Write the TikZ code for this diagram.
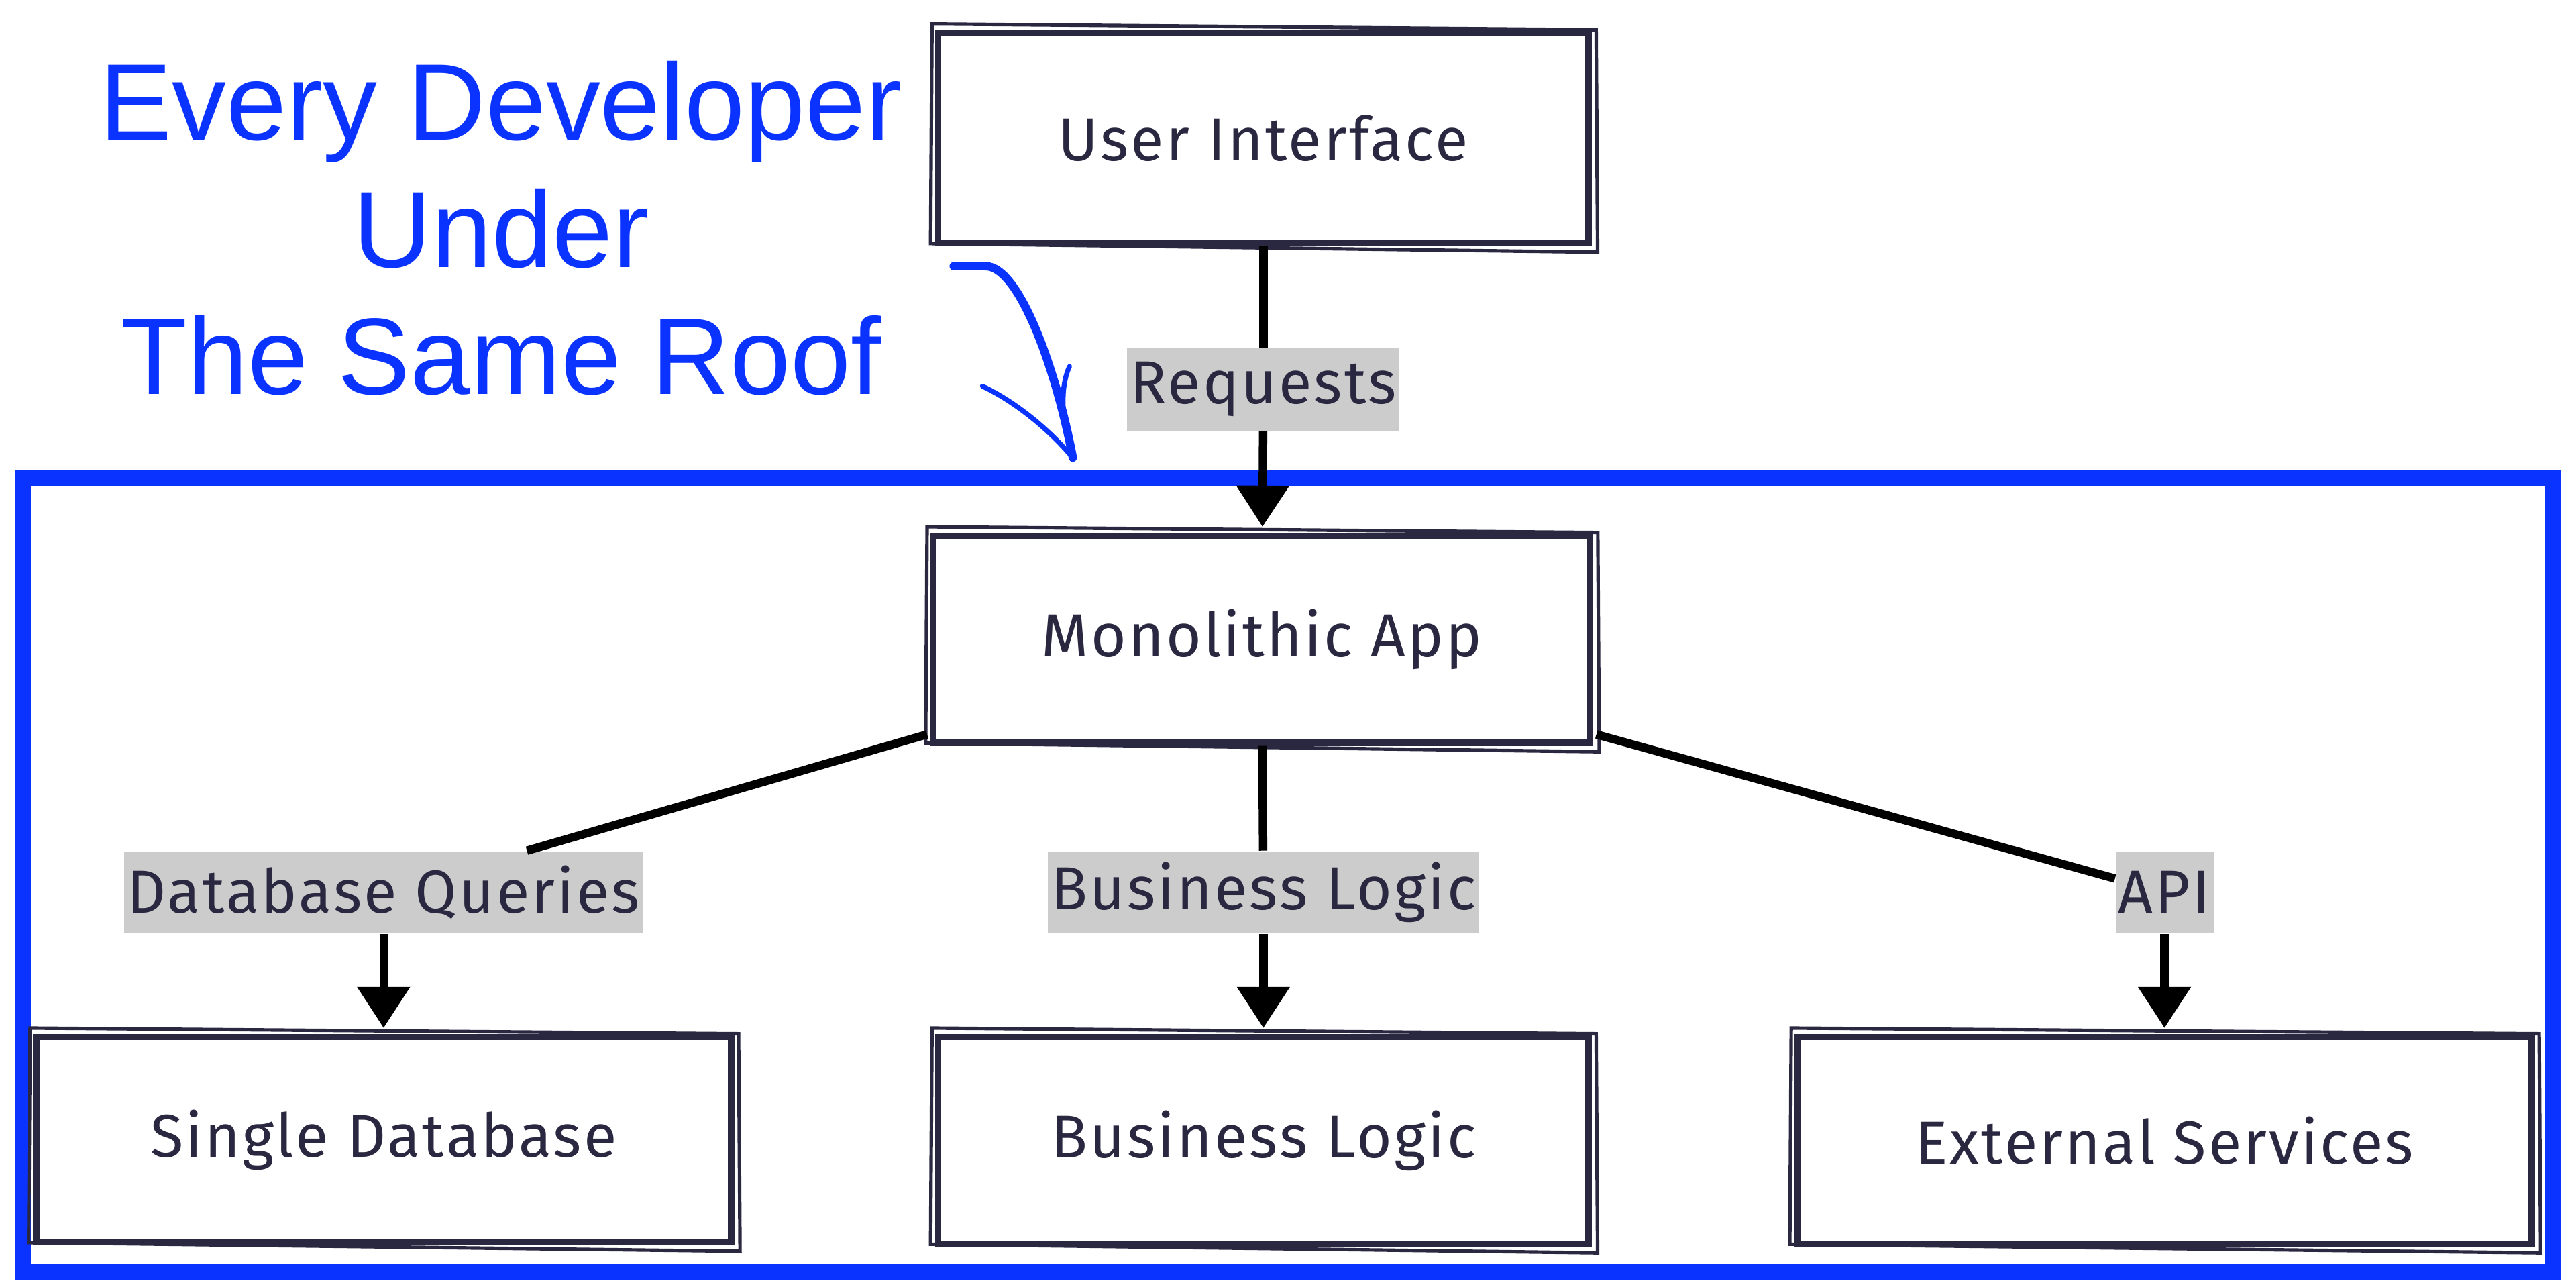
\documentclass[tikz,border=0pt]{standalone}
\usepackage{fontspec}
\setmainfont{Fira Sans}
\newfontfamily\boxfont[LetterSpace=3.5]{Fira Sans}
\newfontfamily\titlefont{Liberation Sans}
\usetikzlibrary{arrows.meta}
\definecolor{ink}{HTML}{2A2740}
\definecolor{roof}{HTML}{0A33FF}
\definecolor{tagfill}{HTML}{CCCCCC}
\tikzset{
  box/.style={draw=ink, line width=2.2pt, minimum height=2.52cm, text=ink,
    font=\boxfont\fontsize{21}{24}\selectfont},
  tag/.style={fill=tagfill, text=ink, minimum height=1cm, inner xsep=1pt,
    font=\boxfont\fontsize{21}{24}\selectfont},
  link/.style={line width=2.9pt},
  flow/.style={link, -{Triangle[length=0.5cm, width=0.62cm]}, shorten >=2pt},
}
\begin{document}
\begin{tikzpicture}
    \useasboundingbox (0,0) rectangle (31.36,15.66);
    % the roof
    \draw [roof, line width=5.3pt] (0.28,0.18) rectangle (31.08,9.84);
    \node [roof, align=center, font=\titlefont\fontsize{37.6}{44}\selectfont] (title) at (6.1,12.88) {Every Developer\\Under\\The Same Roof};
    \draw [roof, line width=2.9pt, line cap=round] (11.61,12.42) -- (12.0,12.42) .. controls (12.4,12.42) and (12.85,11.2) .. (13.06,10.09);
    \draw [roof, line width=1.7pt, line cap=round] (11.96,10.96) .. controls (12.4,10.75) and (12.8,10.4) .. (13.06,10.09);
    \draw [roof, line width=1.7pt, line cap=round] (13.02,11.2) .. controls (12.9,10.95) and (12.92,10.5) .. (13.06,10.09);
    % boxes
    \node [box, minimum width=7.92cm, minimum height=2.56cm] (ui) at (15.38,13.98) {User Interface};
    \node [box, minimum width=8.0cm] (mono) at (15.36,7.88) {Monolithic App};
    \node [box, minimum width=8.46cm, minimum height=2.5cm] (db) at (4.67,1.79) {Single Database};
    \node [box, minimum width=7.92cm] (bl) at (15.38,1.78) {Business Logic};
    \node [box, minimum width=8.94cm] (ext) at (26.35,1.78) {External Services};
    \foreach \b in {ui,mono,db,bl,ext}
        \draw [ink, line width=1.2pt] ([shift={(-1pt,2pt)}]\b.north west) -- ([shift={(1.5pt,0pt)}]\b.north east) -- ([shift={(2pt,-2pt)}]\b.south east) -- ([shift={(-1.5pt,1pt)}]\b.south west) -- cycle;
    % labels
    \node [tag] (req) at (15.38,10.92) {Requests};
    \node [tag] (dbq) at (4.67,4.8) {Database Queries};
    \node [tag] (blq) at (15.38,4.8) {Business Logic};
    \node [tag] (api) at (26.35,4.8) {API};
    % connectors
    \draw [link] (ui) -- (req);
    \draw [flow] (req) -- (mono);
    \draw [link] ([shift={(-1pt,4pt)}]mono.south west) -- (dbq);
    \draw [flow] (dbq) -- (db);
    \draw [link] (mono) -- (blq);
    \draw [flow] (blq) -- (bl);
    \draw [link] ([shift={(1pt,4pt)}]mono.south east) -- (api);
    \draw [flow] (api) -- (ext);
\end{tikzpicture}
\end{document}
